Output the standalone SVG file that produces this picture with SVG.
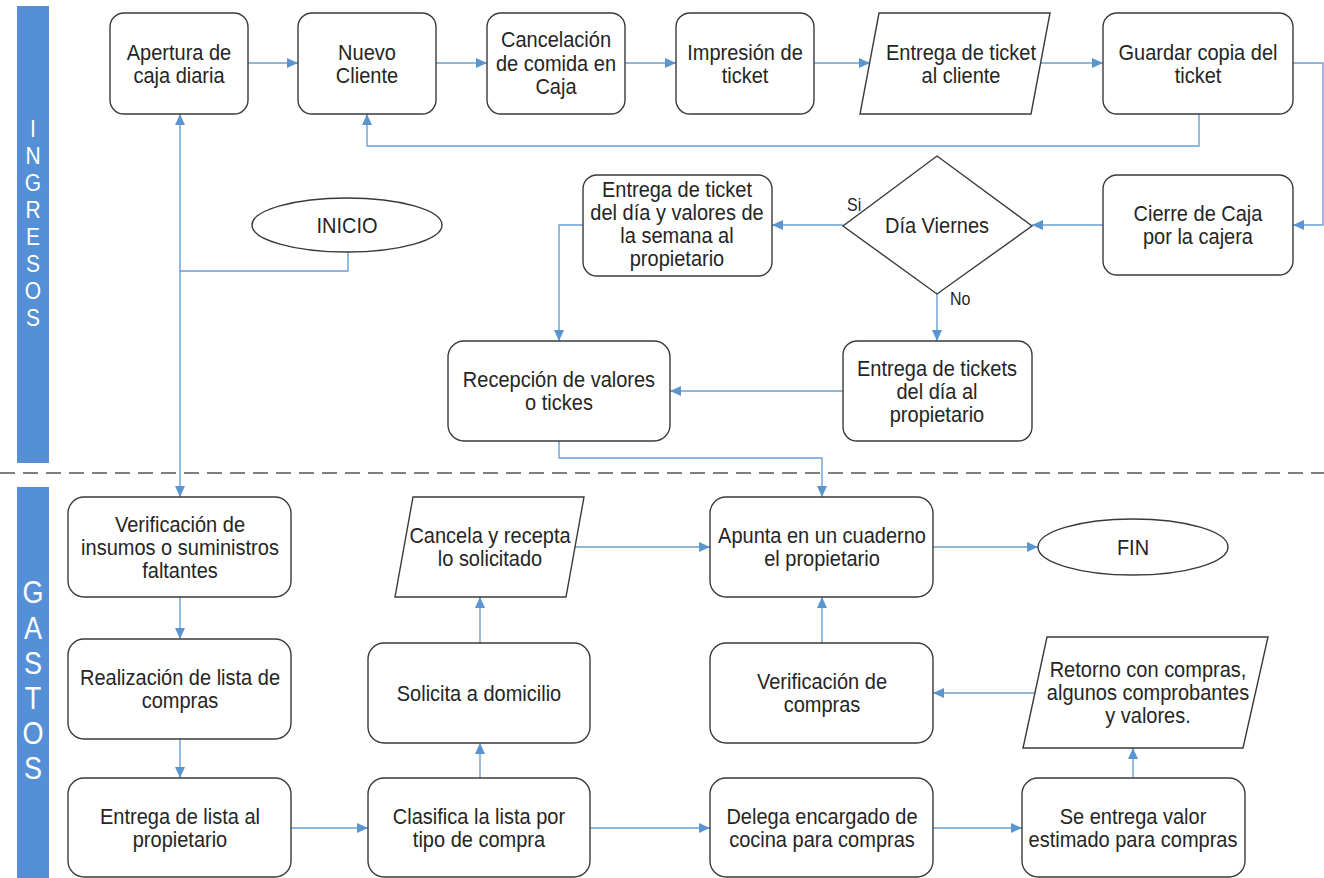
<svg xmlns="http://www.w3.org/2000/svg" width="1324" height="878" viewBox="0 0 1324 878">
<style>
.box{fill:#fff;stroke:#3a3a3a;stroke-width:1.4}
.t{font-family:"Liberation Sans",Arial,sans-serif;font-size:20px;fill:#252525;text-anchor:middle;transform-box:fill-box;transform-origin:center;transform:scaleY(1.1)}
.s{font-family:"Liberation Sans",Arial,sans-serif;font-size:16px;fill:#252525;transform-box:fill-box;transform-origin:center;transform:scaleY(1.1)}
.lane text{font-family:"Liberation Sans",Arial,sans-serif;fill:#fff;text-anchor:middle;transform-box:fill-box;transform-origin:center;transform:scaleY(1.15)}
.c{fill:none;stroke:#6a9fd3;stroke-width:1.4}
.a{marker-end:url(#ah)}
</style>
<defs>
<marker id="ah" markerUnits="userSpaceOnUse" markerWidth="11" markerHeight="10" refX="11" refY="5" orient="auto">
<path d="M0,0 L11,5 L0,10 z" fill="#5b95d0"/>
</marker>
</defs>
<rect width="1324" height="878" fill="#fff"/>
<g id="lanes">
<rect x="17" y="6" width="32" height="457" fill="#5590d6"/>
<rect x="17" y="487" width="32" height="391" fill="#5590d6"/>
<g class="lane" font-size="21">
<text x="33" y="136">I</text><text x="33" y="163">N</text><text x="33" y="190">G</text><text x="33" y="217">R</text><text x="33" y="244">E</text><text x="33" y="271">S</text><text x="33" y="298">O</text><text x="33" y="325">S</text>
</g>
<g class="lane" font-size="27">
<text x="33" y="602">G</text><text x="33" y="638">A</text><text x="33" y="673">S</text><text x="33" y="708">T</text><text x="33" y="743">O</text><text x="33" y="778">S</text>
</g>
<line x1="0" y1="473" x2="1324" y2="473" stroke="#555" stroke-width="1.5" stroke-dasharray="15 8"/>
</g>
<g id="connectors">
<path class="c a" d="M248,63 H298"/>
<path class="c a" d="M436,63 H487"/>
<path class="c a" d="M625,63 H676"/>
<path class="c a" d="M814,63 H870"/>
<path class="c a" d="M1040,63 H1103"/>
<path class="c a" d="M1293,63 H1323 V225 H1293"/>
<path class="c a" d="M1199,114 V146 H367 V114"/>
<path class="c a" d="M1103,225 H1032"/>
<path class="c a" d="M843,225 H772"/>
<path class="c a" d="M583,225 H559 V341"/>
<path class="c a" d="M937,294 V341"/>
<path class="c a" d="M843,391 H670"/>
<path class="c a" d="M559,441 V458 H822 V497"/>
<path class="c a" d="M348,252 V271 H180 V114"/>
<path class="c a" d="M180,271 V497"/>
<path class="c a" d="M180,597 V639"/>
<path class="c a" d="M180,739 V778"/>
<path class="c a" d="M291,828 H368"/>
<path class="c a" d="M480,778 V743"/>
<path class="c a" d="M480,643 V597"/>
<path class="c a" d="M574,547 H710"/>
<path class="c a" d="M933,547 H1038"/>
<path class="c a" d="M590,828 H710"/>
<path class="c a" d="M933,828 H1022"/>
<path class="c a" d="M1133,778 V748"/>
<path class="c a" d="M1035,693 H933"/>
<path class="c a" d="M822,643 V597"/>
<text class="s" x="847" y="210">Si</text>
<text class="s" x="950" y="304">No</text>
</g>
<g id="n-apertura"><rect class="box" x="110" y="13" width="138" height="101" rx="14"/><text class="t" x="179" y="59">Apertura de</text><text class="t" x="179" y="82">caja diaria</text></g>
<g id="n-nuevo"><rect class="box" x="298" y="13" width="138" height="101" rx="14"/><text class="t" x="367" y="59">Nuevo</text><text class="t" x="367" y="82">Cliente</text></g>
<g id="n-cancelacion"><rect class="box" x="487" y="13" width="138" height="101" rx="14"/><text class="t" x="556" y="46">Cancelación</text><text class="t" x="556" y="70">de comida en</text><text class="t" x="556" y="93">Caja</text></g>
<g id="n-impresion"><rect class="box" x="676" y="13" width="138" height="101" rx="14"/><text class="t" x="745" y="59">Impresión de</text><text class="t" x="745" y="82">ticket</text></g>
<g id="n-entrega-cliente"><polygon class="box" points="879,13 1050,13 1031,114 860,114"/><text class="t" x="961" y="59">Entrega de ticket</text><text class="t" x="961" y="82">al cliente</text></g>
<g id="n-guardar"><rect class="box" x="1103" y="13" width="190" height="101" rx="14"/><text class="t" x="1198" y="59">Guardar copia del</text><text class="t" x="1198" y="82">ticket</text></g>
<g id="n-cierre"><rect class="box" x="1103" y="175" width="190" height="100" rx="14"/><text class="t" x="1198" y="220">Cierre de Caja</text><text class="t" x="1198" y="243">por la cajera</text></g>
<g id="n-viernes"><polygon class="box" points="937,156 1032,226 937,294 843,226"/><text class="t" x="937" y="232">Día Viernes</text></g>
<g id="n-entrega-semana"><rect class="box" x="583" y="175" width="189" height="101" rx="14"/><text class="t" x="677" y="196">Entrega de ticket</text><text class="t" x="677" y="219">del día y valores de</text><text class="t" x="677" y="242">la semana al</text><text class="t" x="677" y="265">propietario</text></g>
<g id="n-inicio"><ellipse class="box" cx="347" cy="225" rx="95" ry="27"/><text class="t" x="347" y="232">INICIO</text></g>
<g id="n-recepcion"><rect class="box" x="448" y="341" width="222" height="100" rx="16"/><text class="t" x="559" y="386">Recepción de valores</text><text class="t" x="559" y="409">o tickes</text></g>
<g id="n-entrega-dia"><rect class="box" x="843" y="341" width="189" height="100" rx="14"/><text class="t" x="937" y="375">Entrega de tickets</text><text class="t" x="937" y="398">del día al</text><text class="t" x="937" y="421">propietario</text></g>
<g id="n-verif-insumos"><rect class="box" x="68" y="497" width="223" height="100" rx="16"/><text class="t" x="180" y="531">Verificación de</text><text class="t" x="180" y="554">insumos o suministros</text><text class="t" x="180" y="577">faltantes</text></g>
<g id="n-cancela"><polygon class="box" points="413,497 584,497 566,597 395,597"/><text class="t" x="490" y="542">Cancela y recepta</text><text class="t" x="490" y="565">lo solicitado</text></g>
<g id="n-apunta"><rect class="box" x="710" y="497" width="223" height="100" rx="16"/><text class="t" x="822" y="542">Apunta en un cuaderno</text><text class="t" x="822" y="565">el propietario</text></g>
<g id="n-fin"><ellipse class="box" cx="1133" cy="547" rx="95" ry="28"/><text class="t" x="1133" y="554">FIN</text></g>
<g id="n-realizacion"><rect class="box" x="68" y="639" width="223" height="100" rx="16"/><text class="t" x="180" y="684">Realización de lista de</text><text class="t" x="180" y="707">compras</text></g>
<g id="n-solicita"><rect class="box" x="368" y="643" width="222" height="100" rx="16"/><text class="t" x="479" y="700">Solicita a domicilio</text></g>
<g id="n-verif-compras"><rect class="box" x="710" y="643" width="223" height="100" rx="16"/><text class="t" x="822" y="688">Verificación de</text><text class="t" x="822" y="711">compras</text></g>
<g id="n-retorno"><polygon class="box" points="1047,637 1268,637 1243,748 1023,748"/><text class="t" x="1148" y="676">Retorno con compras,</text><text class="t" x="1148" y="699">algunos comprobantes</text><text class="t" x="1148" y="722">y valores.</text></g>
<g id="n-entrega-lista"><rect class="box" x="68" y="778" width="223" height="99" rx="16"/><text class="t" x="180" y="823">Entrega de lista al</text><text class="t" x="180" y="846">propietario</text></g>
<g id="n-clasifica"><rect class="box" x="368" y="778" width="222" height="99" rx="16"/><text class="t" x="479" y="823">Clasifica la lista por</text><text class="t" x="479" y="846">tipo de compra</text></g>
<g id="n-delega"><rect class="box" x="710" y="778" width="223" height="99" rx="16"/><text class="t" x="822" y="823">Delega encargado de</text><text class="t" x="822" y="846">cocina para compras</text></g>
<g id="n-se-entrega"><rect class="box" x="1022" y="778" width="223" height="99" rx="16"/><text class="t" x="1133" y="823">Se entrega valor</text><text class="t" x="1133" y="846">estimado para compras</text></g>
</svg>
